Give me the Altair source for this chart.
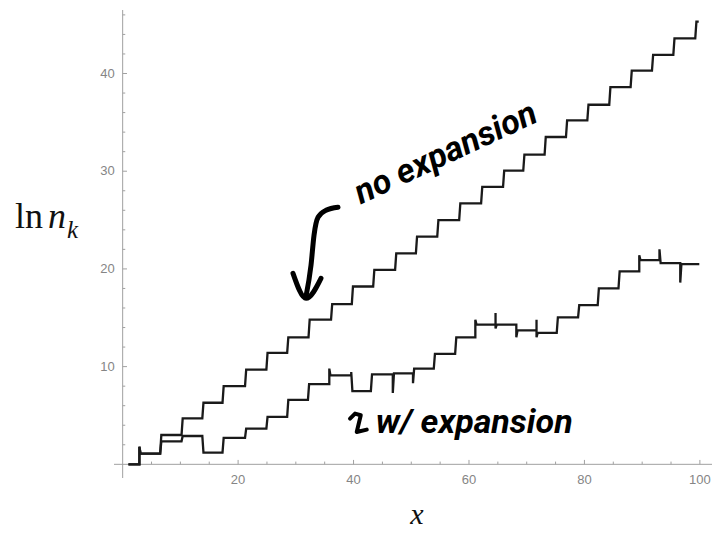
import altair as alt
import pandas as pd

# ---------------- data ----------------
# "no expansion" curve: x positions of the risers and the plateau levels
upper_start = 1.0
upper_end = 99.8
upper_risers = [2.9, 6.5, 10.2, 13.8, 17.3, 21.2, 24.9, 28.5, 32.2, 36.1,
                39.7, 43.4, 47.2, 50.8, 54.5, 58.3, 62.1, 65.9, 69.4, 73.1,
                76.8, 80.5, 84.3, 88.0, 91.7, 95.4, 99.2]
upper_levels = [0.0, 1.1, 3.0, 4.7, 6.3, 8.0, 9.7, 11.4, 13.0, 14.8,
                16.4, 18.2, 19.9, 21.6, 23.3, 25.0, 26.7, 28.4, 30.05, 31.7,
                33.5, 35.2, 36.8, 38.6, 40.3, 41.9, 43.6, 45.3]
upper_spike_x = [2.9]
upper_spike_y = [[1.8]]

# "w/ expansion" curve
lower_start = 1.0
lower_end = 99.9
lower_risers = [2.9, 6.5, 10.2, 13.8, 17.3, 21.2, 24.9, 28.5, 32.1, 35.8,
                39.6, 43.0, 46.8, 50.3, 53.9, 57.6, 61.1, 64.6, 68.2, 71.7,
                75.2, 78.9, 82.3, 85.9, 89.5, 93.0, 96.6]
lower_levels = [0.0, 1.1, 2.35, 2.9, 1.2, 2.7, 3.65, 4.85, 6.6, 8.2,
                9.1, 7.5, 9.2, 9.3, 9.8, 11.3, 13.0, 14.3, 14.3, 13.7,
                13.45, 15.05, 16.3, 18.0, 19.75, 20.9, 20.6, 20.5]
lower_spike_x = [2.9, 35.8, 39.6, 46.8, 50.3, 61.1, 64.6, 68.2, 71.7, 89.5, 93.0, 96.6]
lower_spike_y = [[1.8], [9.8], [9.45], [7.3], [8.3], [14.8], [15.5, 13.9],
                 [13.0], [14.8, 13.0], [21.4], [22.0], [18.6]]

# axis ticks
x_major = [20, 40, 60, 80, 100]
x_minor = [5, 10, 15, 25, 30, 35, 45, 50, 55, 65, 70, 75, 85, 90, 95]
y_major = [10, 20, 30, 40]
y_minor = [2, 4, 6, 8, 12, 14, 16, 18, 22, 24, 26, 28, 32, 34, 36, 38, 42, 44, 46]

# handwritten annotations (in data units)
note_text = ["no expansion", "w/ expansion"]
note_x = [56.0, 60.9]
note_y = [31.8, 4.2]
arrow_x = [37.31, 35.23, 33.85, 33.15, 32.63, 31.77]
arrow_y = [26.31, 26.00, 25.28, 23.44, 20.37, 17.20]
head_x = [29.51, 31.77, 34.36]
head_y = [19.55, 16.99, 19.04]
hook_x = [39.39, 40.26, 41.25, 40.55, 42.29]
hook_y = [4.68, 5.19, 5.02, 3.31, 3.55]

X_DOMAIN = [-1.5, 102.1]
Y_DOMAIN = [-1.4, 46.5]
xs = alt.Scale(domain=X_DOMAIN, nice=False, zero=False)
ys = alt.Scale(domain=Y_DOMAIN, nice=False, zero=False)


def step_path(name, x0, x1, risers, levels, sx, sy, w=0.2):
    spikes = dict(zip(sx, sy))
    pts = [(x0, levels[0])]
    for i, xr in enumerate(risers):
        pts.append((xr, levels[i]))
        for s in spikes.get(xr, []):
            pts.append((xr, s))
        pts.append((xr + w, levels[i + 1]))
    pts.append((x1, levels[-1]))
    return pd.DataFrame({"x": [p[0] for p in pts], "y": [p[1] for p in pts],
                         "o": list(range(len(pts))), "s": name})


curves = pd.concat([
    step_path("no expansion", upper_start, upper_end, upper_risers, upper_levels,
              upper_spike_x, upper_spike_y),
    step_path("w/ expansion", lower_start, lower_end, lower_risers, lower_levels,
              lower_spike_x, lower_spike_y),
])

lines = alt.Chart(curves).mark_line(color="#1a1a1a", strokeWidth=2.3).encode(
    x=alt.X("x:Q", scale=xs, axis=None),
    y=alt.Y("y:Q", scale=ys, axis=None),
    detail="s:N",
    order="o:Q",
)

AX_COL = "#a0a0a0"
LAB_COL = "#858585"
LAB_FONT = "Liberation Sans"

axes_df = pd.DataFrame({"x": [X_DOMAIN[0], 0], "x2": [102.3, 0],
                        "y": [0, Y_DOMAIN[0]], "y2": [0, Y_DOMAIN[1]]})
axes = alt.Chart(axes_df).mark_rule(color=AX_COL, strokeWidth=1).encode(
    x=alt.X("x:Q", scale=xs, axis=None), x2="x2:Q",
    y=alt.Y("y:Q", scale=ys, axis=None), y2="y2:Q",
)

ymaj = pd.DataFrame({"v": y_major, "lab": [str(v) for v in y_major]})
ymin = pd.DataFrame({"v": y_minor})
xmaj = pd.DataFrame({"v": x_major, "lab": [str(v) for v in x_major]})
xmin = pd.DataFrame({"v": x_minor})

ytick_major = alt.Chart(ymaj).mark_rule(color=AX_COL, strokeWidth=1).encode(
    y=alt.Y("v:Q", scale=ys, axis=None),
    x=alt.XDatum(0, type="quantitative", axis=None), x2=alt.X2Datum(0.75),
)
ytick_minor = alt.Chart(ymin).mark_rule(color=AX_COL, strokeWidth=1).encode(
    y=alt.Y("v:Q", scale=ys, axis=None),
    x=alt.XDatum(0, type="quantitative", axis=None), x2=alt.X2Datum(0.45),
)
ylabels = alt.Chart(ymaj).mark_text(align="right", baseline="middle", dx=-8,
                                    font=LAB_FONT, fontSize=13, color=LAB_COL).encode(
    y=alt.Y("v:Q", scale=ys, axis=None),
    x=alt.XDatum(0, type="quantitative", axis=None),
    text="lab:N",
)
xtick_major = alt.Chart(xmaj).mark_rule(color=AX_COL, strokeWidth=1).encode(
    x=alt.X("v:Q", scale=xs, axis=None),
    y=alt.YDatum(0, type="quantitative", axis=None), y2=alt.Y2Datum(0.45),
)
xtick_minor = alt.Chart(xmin).mark_rule(color=AX_COL, strokeWidth=1).encode(
    x=alt.X("v:Q", scale=xs, axis=None),
    y=alt.YDatum(0, type="quantitative", axis=None), y2=alt.Y2Datum(0.28),
)
xlabels = alt.Chart(xmaj).mark_text(align="center", baseline="middle", dy=16,
                                    font=LAB_FONT, fontSize=13, color=LAB_COL).encode(
    x=alt.X("v:Q", scale=xs, axis=None),
    y=alt.YDatum(0, type="quantitative", axis=None),
    text="lab:N",
)

# axis titles (ln n_k and x)
SERIF = "Liberation Serif"
t_ln = alt.Chart(pd.DataFrame({"t": ["ln"]})).mark_text(
    align="left", baseline="alphabetic", font=SERIF, fontSize=36, color="#111").encode(
    x=alt.value(-99), y=alt.value(218), text="t:N")
t_n = alt.Chart(pd.DataFrame({"t": ["n"]})).mark_text(
    align="left", baseline="alphabetic", font=SERIF, fontSize=36, fontStyle="italic",
    color="#111").encode(x=alt.value(-66), y=alt.value(218), text="t:N")
t_k = alt.Chart(pd.DataFrame({"t": ["k"]})).mark_text(
    align="left", baseline="alphabetic", font=SERIF, fontSize=25, fontStyle="italic",
    color="#111").encode(x=alt.value(-47), y=alt.value(228), text="t:N")
t_x = alt.Chart(pd.DataFrame({"t": ["x"]})).mark_text(
    align="center", baseline="alphabetic", font=SERIF, fontSize=30, fontStyle="italic",
    color="#111").encode(x=alt.value(303), y=alt.value(514), text="t:N")

# handwritten notes
HAND = "Roboto"
notes = pd.DataFrame({"t": note_text, "x": note_x, "y": note_y})
note1 = alt.Chart(notes.iloc[[0]]).mark_text(
    align="center", baseline="middle", angle=335, font=HAND, fontSize=34,
    fontWeight="bold", fontStyle="italic", color="black").encode(
    x=alt.X("x:Q", scale=xs, axis=None), y=alt.Y("y:Q", scale=ys, axis=None), text="t:N")
note2 = alt.Chart(notes.iloc[[1]]).mark_text(
    align="center", baseline="middle", font=HAND, fontSize=34,
    fontWeight="bold", fontStyle="italic", color="black").encode(
    x=alt.X("x:Q", scale=xs, axis=None), y=alt.Y("y:Q", scale=ys, axis=None), text="t:N")

strokes = pd.concat([
    pd.DataFrame({"x": arrow_x, "y": arrow_y, "o": range(len(arrow_x)), "g": "arrow"}),
    pd.DataFrame({"x": head_x, "y": head_y, "o": range(len(head_x)), "g": "head"}),
])
pen = alt.Chart(strokes).mark_line(color="black", strokeWidth=5, strokeCap="round",
                                   strokeJoin="round", interpolate="monotone").encode(
    x=alt.X("x:Q", scale=xs, axis=None), y=alt.Y("y:Q", scale=ys, axis=None),
    detail="g:N", order="o:Q")
hook = alt.Chart(pd.DataFrame({"x": hook_x, "y": hook_y, "o": range(len(hook_x))})).mark_line(
    color="black", strokeWidth=4, strokeCap="round", strokeJoin="round").encode(
    x=alt.X("x:Q", scale=xs, axis=None), y=alt.Y("y:Q", scale=ys, axis=None), order="o:Q")

chart = alt.layer(
    axes, ytick_major, ytick_minor, xtick_major, xtick_minor, ylabels, xlabels,
    lines, t_ln, t_n, t_k, t_x, note1, note2, pen, hook,
).properties(
    width=598, height=468,
    autosize=alt.AutoSizeParams(type="none"),
    padding={"left": 106, "top": 2, "right": 0, "bottom": 59},
    background="white",
).configure_view(stroke=None)

chart.save("out.html", embed_options={"renderer": "svg", "actions": False})
